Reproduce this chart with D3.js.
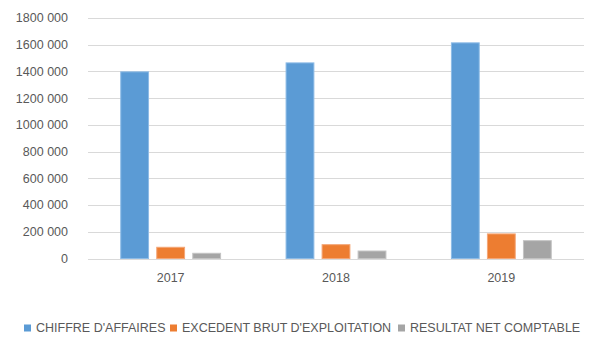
<!DOCTYPE html>
<html>
<head>
<meta charset="utf-8">
<script src="https://cdn.jsdelivr.net/npm/d3@7"></script>
<style>
  body { margin:0; background:#fff; }
  text { fill:#595959; }
</style>
</head>
<body>
<div id="chart-area"></div>
<script>
// data
const years = ["2017", "2018", "2019"];
const series = ["CHIFFRE D'AFFAIRES", "EXCEDENT BRUT D'EXPLOITATION", "RESULTAT NET COMPTABLE"];
const chiffreAffaires = [1397000, 1464000, 1614000];
const excedentBrut = [84000, 103500, 184000];
const resultatNet = [39000, 56000, 133500];
const yTicks = [0, 200000, 400000, 600000, 800000, 1000000, 1200000, 1400000, 1600000, 1800000];

const colors = ["#5B9BD5", "#ED7D31", "#A5A5A5"];
const strokes = ["#8DBBE6", "#F4A677", "#C3C3C3"];

const W = 603, H = 362;
const margin = { left:88, right:19, top:18, bottom:103.5 };
const width = W - margin.left - margin.right,
    height = H - margin.top - margin.bottom;

const svg = d3.select("#chart-area")
    .append("svg")
    .attr("width", W)
    .attr("height", H);

const g = svg.append("g")
    .attr("transform", "translate(" + margin.left + ", " + margin.top + ")");

const y = d3.scaleLinear()
    .domain([0, 1800000])
    .range([height, 0]);

const x = d3.scaleBand()
    .domain(years)
    .range([0, width])
    .padding(0);

const groupW = x.bandwidth() * 0.61;
const x1 = d3.scaleBand()
    .domain(series)
    .range([(x.bandwidth() - groupW) / 2, (x.bandwidth() + groupW) / 2])
    .paddingInner(0.2)
    .paddingOuter(0);

// french style thousands: "1800 000"
const fr = d3.formatLocale({ decimal:",", thousands:" ", grouping:[3, 4], currency:["", " €"] });
const fmt = fr.format(",d");

// gridlines
g.selectAll("line.grid")
    .data(yTicks)
    .enter()
    .append("line")
        .attr("class", "grid")
        .attr("x1", 0)
        .attr("x2", width)
        .attr("y1", d => Math.round(y(d)) + 0.5)
        .attr("y2", d => Math.round(y(d)) + 0.5)
        .attr("stroke", "#D9D9D9")
        .attr("stroke-width", 1);

// y labels
g.selectAll("text.ytick")
    .data(yTicks)
    .enter()
    .append("text")
        .attr("class", "ytick")
        .attr("x", -20)
        .attr("y", d => y(d))
        .attr("dy", "0.35em")
        .attr("text-anchor", "end")
        .attr("font-family", "Liberation Sans, Arial, sans-serif")
        .attr("font-size", "12.5px")
        .text(d => fmt(d));

// x labels
g.selectAll("text.xtick")
    .data(years)
    .enter()
    .append("text")
        .attr("class", "xtick")
        .attr("x", d => x(d) + x.bandwidth() / 2)
        .attr("y", height + 19)
        .attr("dy", "0.35em")
        .attr("text-anchor", "middle")
        .attr("font-family", "Liberation Sans, Arial, sans-serif")
        .attr("font-size", "12.5px")
        .text(d => d);

const table = years.map((yr, i) => ({
    year: yr,
    values: [chiffreAffaires[i], excedentBrut[i], resultatNet[i]]
}));

const groups = g.selectAll("g.year")
    .data(table)
    .enter()
    .append("g")
        .attr("class", "year")
        .attr("transform", d => "translate(" + x(d.year) + ",0)");

groups.selectAll("rect")
    .data(d => d.values.map((v, j) => ({ s: series[j], v: v, j: j })))
    .enter()
    .append("rect")
        .attr("x", d => x1(d.s) + 0.5)
        .attr("y", d => y(d.v))
        .attr("width", x1.bandwidth() - 1)
        .attr("height", d => height - y(d.v))
        .attr("fill", d => colors[d.j])
        .attr("stroke", d => strokes[d.j])
        .attr("stroke-width", 1);

// legend
const legend = svg.append("g").attr("transform", "translate(0,328)");
const legendX = [24, 170, 398];
series.forEach((s, i) => {
    legend.append("rect")
        .attr("x", legendX[i])
        .attr("y", -3.5)
        .attr("width", 7)
        .attr("height", 7)
        .attr("fill", colors[i]);
    legend.append("text")
        .attr("x", legendX[i] + 12)
        .attr("y", 0)
        .attr("dy", "0.35em")
        .attr("font-family", "Liberation Sans Narrow, Liberation Sans, Arial, sans-serif")
        .attr("font-size", "12.5px")
        .text(s);
});
</script>
</body>
</html>
